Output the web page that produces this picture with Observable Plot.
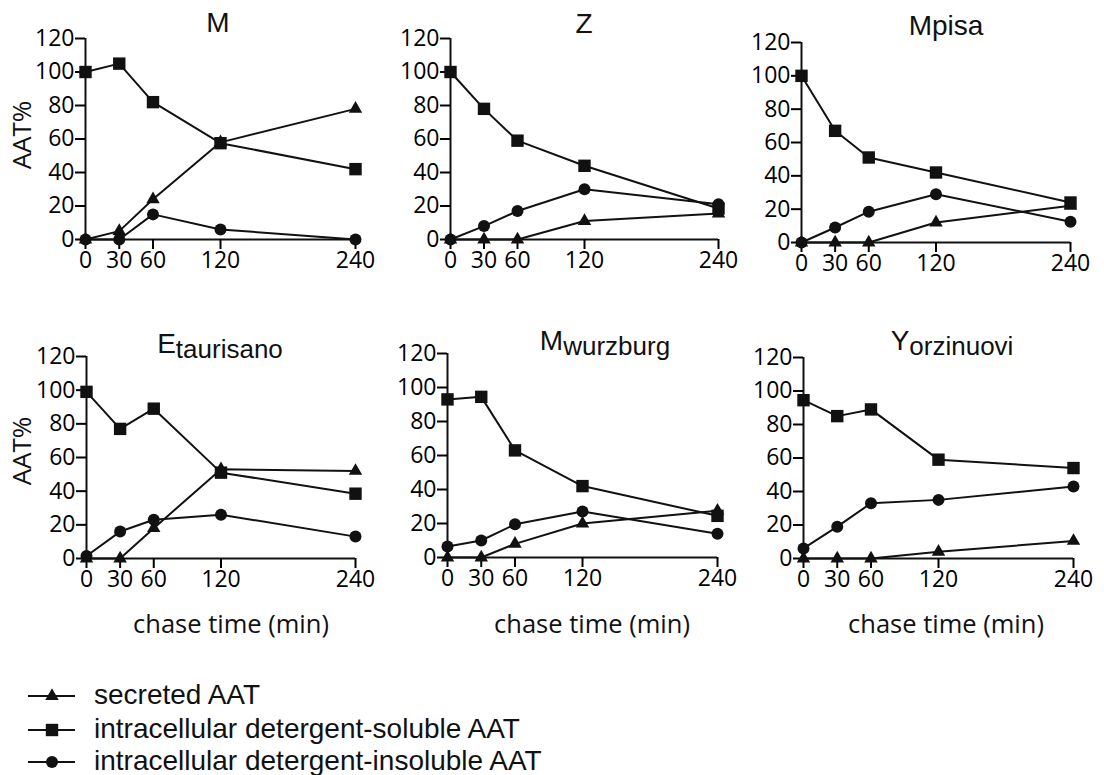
<!DOCTYPE html>
<html>
<head>
<meta charset="utf-8">
<script src="https://cdn.jsdelivr.net/npm/d3@7"></script>
<script src="https://cdn.jsdelivr.net/npm/@observablehq/plot@0.6"></script>
<style>
  html, body { margin: 0; padding: 0; background: #fff; }
  #root { position: relative; width: 1104px; height: 775px; overflow: hidden; background: #fff; }
  .panel { position: absolute; }
  #overlay { position: absolute; left: 0; top: 0; pointer-events: none; }
</style>
</head>
<body>
<div id="root"></div>
<script>
// ---- data ----
const times = [0, 30, 60, 120, 240];
const xTicks = [0, 30, 60, 120, 240];
const yTicks = [0, 20, 40, 60, 80, 100, 120];
const variants = ["M", "Z", "Mpisa", "Etaurisano", "Mwurzburg", "Yorzinuovi"];
const titleMain = ["M", "Z", "Mpisa", "E", "M", "Y"];
const titleSub = ["", "", "", "taurisano", "wurzburg", "orzinuovi"];
const seriesNames = ["secreted AAT", "intracellular detergent-soluble AAT", "intracellular detergent-insoluble AAT"];
const seriesSymbols = ["triangle", "square", "circle"];
const yLabel = "AAT%";
const xLabel = "chase time (min)";

// one row per variant, one value per chase time
const secreted = [
  [0, 5, 24, 58, 78],
  [0, 0, 0, 11, 15.5],
  [0, 0, 0, 12, 22],
  [0, 0, 18, 53, 52],
  [0, 0, 8, 20, 27.5],
  [0, 0, 0, 4, 10.5]
];
const soluble = [
  [100, 105, 82, 57.5, 42],
  [100, 78, 59, 44, 18.5],
  [100, 67, 51, 42, 24],
  [99, 77, 89, 51, 38.5],
  [93, 94.5, 63, 42, 24.5],
  [94.5, 85, 89, 59, 54]
];
const insoluble = [
  [0, 0, 15, 6, 0],
  [0, 8, 17, 30, 21],
  [0, 9, 18.5, 29, 12.5],
  [1.5, 16, 23, 26, 13],
  [6.5, 10, 19.5, 27, 14],
  [6, 19, 33, 35, 43]
];

// ---- layout (page pixel positions of each panel's plotting frame) ----
const layout = [
  {x0: 85,  x1: 355,  yTop: 38,  yBot: 239},
  {x0: 450, x1: 718,  yTop: 38,  yBot: 239},
  {x0: 801, x1: 1070, yTop: 42,  yBot: 242},
  {x0: 86,  x1: 355,  yTop: 356, yBot: 558},
  {x0: 447, x1: 717,  yTop: 353, yBot: 557},
  {x0: 803, x1: 1073, yTop: 357, yBot: 558}
];
const titlePos = [
  {x: 218, y: 32}, {x: 584, y: 33}, {x: 946, y: 35},
  {x: 220, y: 353}, {x: 605, y: 350}, {x: 952, y: 350}
];
const mL = 80, mR = 25, mT = 15, mB = 45;
const symR = {triangle: 5, square: 7, circle: 6};

const root = document.getElementById("root");
const allSeries = [secreted, soluble, insoluble];

variants.forEach((v, i) => {
  const rows = [];
  allSeries.forEach((s, k) => {
    times.forEach((t, j) => rows.push({variant: v, series: seriesNames[k], sym: seriesSymbols[k], t, v: s[i][j]}));
  });
  const L = layout[i];
  const w = L.x1 - L.x0, h = L.yBot - L.yTop;
  const chart = Plot.plot({
    width: mL + w + mR,
    height: mT + h + mB,
    marginLeft: mL, marginRight: mR, marginTop: mT, marginBottom: mB,
    style: {background: "transparent", overflow: "visible", fontFamily: "'Open Sans', sans-serif", color: "#000"},
    x: {domain: [0, 240]},
    y: {domain: [0, 120]},
    marks: [
      Plot.ruleX([0], {y1: 0, y2: 120, stroke: "#111", strokeWidth: 2}),
      Plot.ruleY([0], {x1: 0, x2: 240, stroke: "#111", strokeWidth: 2}),
      Plot.axisY({ticks: yTicks, tickSize: 10, tickPadding: 1, fontSize: 23, strokeWidth: 2, label: null, tickFormat: d => String(d)}),
      Plot.axisX({ticks: xTicks, tickSize: 10, tickPadding: 2, fontSize: 23, strokeWidth: 2, label: null, tickFormat: d => String(d)}),
      Plot.line(rows, {x: "t", y: "v", z: "series", stroke: "#111", strokeWidth: 2}),
      ...seriesSymbols.map(sym => Plot.dot(rows.filter(r => r.sym === sym), {x: "t", y: "v", symbol: () => sym, fill: "#111", stroke: "none", r: symR[sym]}))
    ]
  });
  const div = document.createElement("div");
  div.className = "panel";
  div.style.left = (L.x0 - mL) + "px";
  div.style.top = (L.yTop - mT) + "px";
  div.appendChild(chart);
  root.appendChild(div);
});

// ---- overlay for titles, axis titles and legend ----
const ov = d3.select(root).append("svg").attr("id", "overlay").attr("width", 1104).attr("height", 775);

titlePos.forEach((p, i) => {
  const t = ov.append("text")
    .attr("x", p.x).attr("y", p.y)
    .attr("text-anchor", "middle")
    .attr("font-family", "'Liberation Sans', Arial, sans-serif")
    .attr("font-size", 28).attr("fill", "#111");
  t.append("tspan").text(titleMain[i]);
  if (titleSub[i]) t.append("tspan").attr("font-size", 26).attr("dy", 5).text(titleSub[i]);
});

[135, 451].forEach(cy => {
  ov.append("text")
    .attr("transform", `translate(31,${cy}) rotate(-90)`)
    .attr("text-anchor", "middle")
    .attr("font-family", "'Open Sans', sans-serif")
    .attr("font-size", 26).attr("fill", "#111")
    .text(yLabel);
});

[231, 592, 946].forEach(cx => {
  ov.append("text")
    .attr("x", cx).attr("y", 633)
    .attr("text-anchor", "middle")
    .attr("font-family", "'Open Sans', sans-serif")
    .attr("font-size", 25.5).attr("fill", "#111")
    .text(xLabel);
});

const legY = [696, 730, 762];
seriesNames.forEach((name, k) => {
  const g = ov.append("g").attr("transform", `translate(0,${legY[k]})`);
  g.append("line").attr("x1", 28).attr("x2", 75).attr("y1", 0).attr("y2", 0).attr("stroke", "#111").attr("stroke-width", 2);
  const symType = {triangle: d3.symbolTriangle, square: d3.symbolSquare, circle: d3.symbolCircle}[seriesSymbols[k]];
  g.append("path").attr("transform", "translate(52,0)")
    .attr("d", d3.symbol(symType, Math.PI * symR[seriesSymbols[k]] ** 2)())
    .attr("fill", "#111");
  g.append("text").attr("x", 94).attr("y", 8)
    .attr("font-family", "'Liberation Sans', Arial, sans-serif")
    .attr("font-size", 28).attr("fill", "#111")
    .text(name);
});
</script>
</body>
</html>
